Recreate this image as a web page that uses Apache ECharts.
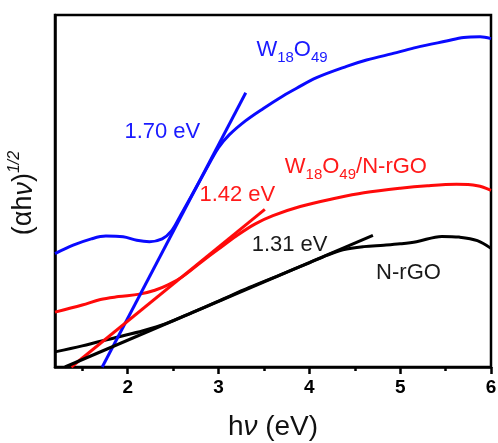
<!DOCTYPE html>
<html>
<head>
<meta charset="utf-8">
<script src="https://cdn.jsdelivr.net/npm/echarts@6.0.0/dist/echarts.min.js"></script>
<style>
  html, body { margin: 0; padding: 0; background: #fff; }
  #chart { width: 498px; height: 443px; }
</style>
</head>
<body>
<div id="chart"></div>
<script>
// x 轴刻度
var xTicks = [2, 3, 4, 5, 6];
var xMinorTicks = [1.5, 2.5, 3.5, 4.5, 5.5];

// 曲线数据 [hν, (αhν)^1/2]，纵轴为任意单位 0-100
var w18o49 = [
  [1.2, 32.2], [1.4, 34.6], [1.6, 36.4], [1.76, 37.2], [1.95, 37.0], [2.1, 36.0],
  [2.24, 35.6], [2.38, 36.4], [2.48, 38.6], [2.57, 42.5], [2.7, 48.5], [2.85, 55.5],
  [3.0, 62.3], [3.12, 66.0], [3.3, 70.0], [3.49, 73.4], [3.71, 77.0], [3.86, 79.2],
  [4.08, 82.2], [4.41, 85.4], [4.63, 87.2], [4.96, 89.3], [5.18, 90.8], [5.51, 92.6],
  [5.7, 93.6], [5.88, 93.8], [6.0, 93.3]
];
var w18o49NrGO = [
  [1.2, 15.6], [1.5, 17.6], [1.7, 19.2], [1.9, 20.0], [2.13, 20.7], [2.3, 21.8],
  [2.45, 23.4], [2.6, 25.6], [2.8, 29.6], [3.0, 33.5], [3.2, 37.3], [3.4, 40.6],
  [3.6, 43.0], [3.9, 45.6], [4.3, 48.0], [4.6, 49.5], [5.0, 50.8], [5.3, 51.5],
  [5.62, 51.9], [5.85, 51.5], [6.0, 50.2]
];
var nrGO = [
  [1.2, 4.3], [1.5, 6.0], [1.87, 8.4], [2.17, 10.3], [2.42, 12.3], [2.72, 15.6],
  [2.98, 18.5], [3.34, 22.6], [3.7, 26.4], [4.0, 29.6], [4.2, 31.8], [4.37, 33.3],
  [4.6, 34.2], [4.82, 34.6], [5.0, 35.0], [5.18, 35.6], [5.46, 37.1], [5.65, 36.9],
  [5.85, 35.9], [6.0, 33.7]
];

// 切线 (起点, 终点)
var tangentBlue = [[1.72, 0], [3.30, 77.9]];
var tangentRed = [[1.38, 0], [3.51, 44.8]];
var tangentBlack = [[1.31, 0], [4.70, 37.4]];

// 标注 [x, y, 文本, 颜色]
var notes = [
  [1.964, 66.7, "{m|1.70 eV}", "#1a1aff"],
  [3.417, 90.0, "{m|W}{s|18}{m|O}{s|49}", "#1a1aff"],
  [3.73, 56.9, "{m|W}{s|18}{m|O}{s|49}{m|/N-rGO}", "#ff1a1a"],
  [2.79, 49.0, "{m|1.42 eV}", "#ff1a1a"],
  [3.365, 34.8, "{m|1.31 eV}", "#1a1a1a"],
  [4.735, 26.8, "{m|N-rGO}", "#1a1a1a"]
];

var FONT = "Liberation Sans";

function lineSeries(data, color, smooth) {
  return {
    type: "line",
    data: data,
    smooth: smooth,
    symbol: "none",
    clip: true,
    lineStyle: { color: color, width: 3 },
    z: 3
  };
}

var myChart = echarts.init(document.getElementById("chart"));
myChart.setOption({
  animation: false,
  backgroundColor: "#fff",
  grid: {
    left: 55, right: 7, top: 15, bottom: 76,
    outerBoundsMode: "none",
    show: true, borderColor: "#000", borderWidth: 2.5
  },
  xAxis: [
    {
      type: "value",
      min: 1.2,
      max: 6,
      axisLine: { lineStyle: { color: "#000", width: 2.5 } },
      axisTick: { customValues: xTicks, length: 7, lineStyle: { color: "#000", width: 2.5 } },
      axisLabel: {
        customValues: xTicks, color: "#000", fontSize: 19, fontWeight: "bold",
        fontFamily: FONT, margin: 11
      },
      splitLine: { show: false },
      name: "{m|h}{i|ν}{m| (eV)}",
      nameLocation: "middle",
      nameGap: 46,
      nameTextStyle: {
        rich: {
          m: { fontSize: 28, fontFamily: FONT, color: "#111" },
          i: { fontSize: 28, fontFamily: FONT, fontStyle: "italic", color: "#111" }
        }
      }
    },
    {
      type: "value",
      min: 1.2,
      max: 6,
      position: "bottom",
      axisLine: { show: false },
      axisTick: { customValues: xMinorTicks, length: 4, lineStyle: { color: "#000", width: 2.5 } },
      axisLabel: { show: false },
      splitLine: { show: false }
    }
  ],
  yAxis: {
    type: "value",
    min: 0,
    max: 100,
    axisLine: { show: true, lineStyle: { color: "#000", width: 2.5 } },
    axisTick: { show: false },
    axisLabel: { show: false },
    splitLine: { show: false }
  },
  series: [
    lineSeries(w18o49, "#0a0aff", 0.35),
    lineSeries(w18o49NrGO, "#ff0a0a", 0.35),
    lineSeries(nrGO, "#000", 0.35),
    lineSeries(tangentBlue, "#0a0aff", false),
    lineSeries(tangentRed, "#ff0a0a", false),
    lineSeries(tangentBlack, "#000", false)
  ]
});

// 标注文字放在数据坐标上
var graphics = notes.map(function (n) {
  var p = myChart.convertToPixel({ gridIndex: 0 }, [n[0], n[1]]);
  return {
    type: "text",
    x: p[0],
    y: p[1],
    z: 10,
    style: {
      text: n[2],
      align: "left",
      verticalAlign: "middle",
      rich: {
        m: { fontSize: 22, fontFamily: FONT, fill: n[3] },
        s: { fontSize: 15, fontFamily: FONT, fill: n[3], padding: [16, 0, 0, 0] }
      }
    }
  };
});

// 纵轴标题 (αhν)^1/2
graphics.push({
  type: "text",
  x: 24,
  y: 193,
  rotation: Math.PI / 2,
  style: {
    text: "{m|(αh}{i|ν}{m|)}{p|1/2}",
    align: "center",
    verticalAlign: "middle",
    rich: {
      m: { fontSize: 27, fontFamily: FONT, fill: "#111" },
      i: { fontSize: 27, fontFamily: FONT, fontStyle: "italic", fill: "#111" },
      p: { fontSize: 16, fontFamily: FONT, fontStyle: "italic", fill: "#111", padding: [0, 0, 18, 0] }
    }
  }
});

myChart.setOption({ graphic: graphics });
</script>
</body>
</html>
